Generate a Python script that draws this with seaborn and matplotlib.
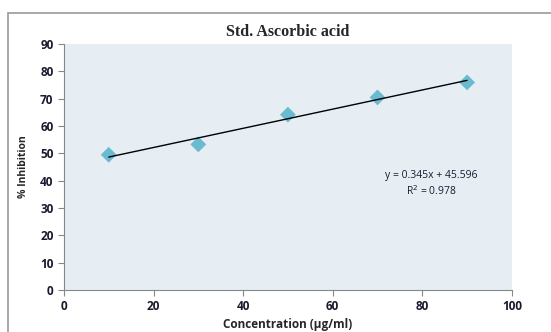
import numpy as np
import pandas as pd
import seaborn as sns
import matplotlib.pyplot as plt
from matplotlib.patches import Rectangle

# data
conc = [10, 30, 50, 70, 90]
inhibition = [49.5, 53.3, 64.2, 70.5, 76.0]
x_ticks = [0, 20, 40, 60, 80, 100]
y_ticks = [0, 10, 20, 30, 40, 50, 60, 70, 80, 90]
eq_text = "y = 0.345x + 45.596\nR$^2$ = 0.978"

df = pd.DataFrame({"conc": conc, "inh": inhibition})

sns.set_style("white")
plt.rcParams['font.family'] = ['Open Sans', 'DejaVu Sans']

fig = plt.figure(figsize=(5.51, 3.32), dpi=100)
ax = fig.add_axes([0.116, 0.1265, 0.813, 0.7405])
ax.set_facecolor("#e7eef3")

# outer chart border
fig.patches.append(Rectangle((8 / 551, -0.1), 1.0, 1.1 - 13 / 332, transform=fig.transFigure,
                             fill=False, edgecolor="#9a9a9a", linewidth=1.2))

sns.regplot(data=df, x="conc", y="inh", ax=ax, ci=None, truncate=True,
            marker="D",
            scatter_kws={"s": 65, "color": "#4badc8", "edgecolors": "none", "zorder": 2},
            line_kws={"color": "black", "linewidth": 1.0, "zorder": 3})

ax.set_xlim(0, 100)
ax.set_ylim(0, 90)
ax.set_xticks(x_ticks)
ax.set_yticks(y_ticks)
ax.tick_params(axis="both", direction="out", length=4, width=0.8, color="#888888",
               labelsize=8.5, labelcolor="#1a1a2e", bottom=True, left=True)
for lab in ax.get_xticklabels() + ax.get_yticklabels():
    lab.set_fontweight("bold")

for side in ["top", "right"]:
    ax.spines[side].set_visible(False)
for side in ["left", "bottom"]:
    ax.spines[side].set_color("#888888")
    ax.spines[side].set_linewidth(0.8)

ax.set_xlabel("Concentration (µg/ml)", fontsize=8.5, fontweight="bold", labelpad=3)
ax.set_ylabel("% Inhibition", fontsize=7.5, fontweight="bold", labelpad=8)
ax.set_title("Std. Ascorbic acid", fontsize=11.5, fontweight="bold",
             family="Liberation Serif", pad=6)

ax.text(82, 38.8, eq_text, ha="center", va="center", fontsize=7.5, linespacing=1.3,
        color="#1a1a2e")

fig.savefig("out.png", dpi=100)
